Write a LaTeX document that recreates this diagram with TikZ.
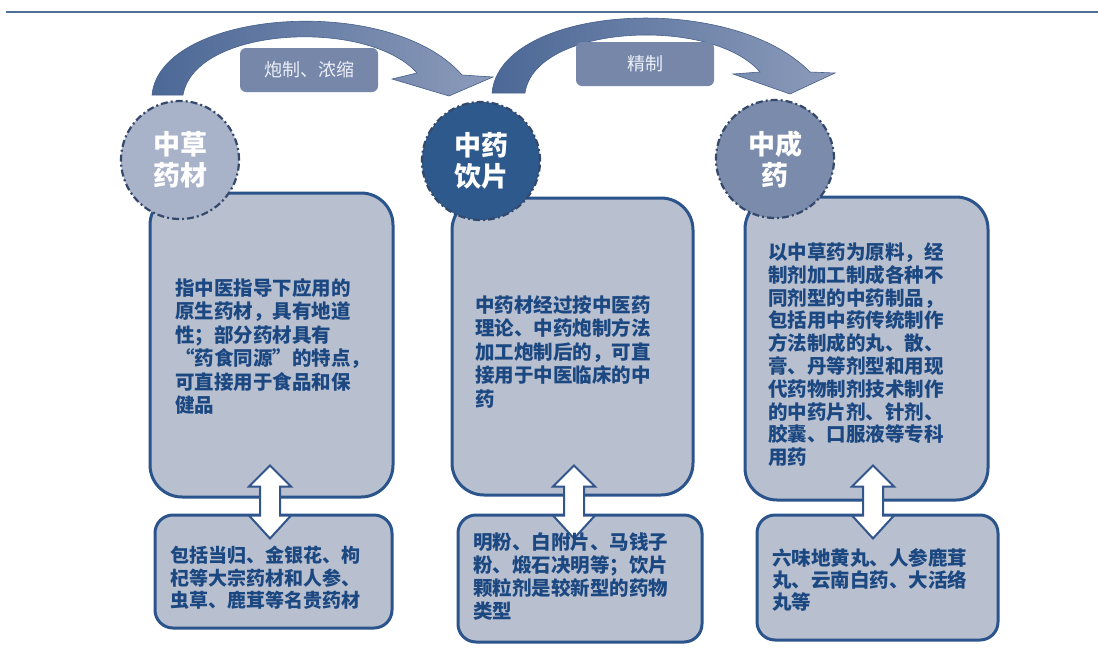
\documentclass[tikz,border=0pt]{standalone}
\usepackage{fontspec}
\newfontfamily\cjk{Noto Sans CJK SC}
\usetikzlibrary{calc}
\definecolor{boxfill}{RGB}{184,191,207}
\definecolor{boxborder}{RGB}{44,84,140}
\definecolor{txtblue}{RGB}{28,72,130}
\definecolor{circA}{RGB}{168,178,200}
\definecolor{circB}{RGB}{46,89,140}
\definecolor{circC}{RGB}{122,139,171}
\definecolor{circborder}{RGB}{52,72,108}
\definecolor{lblfill}{RGB}{118,135,170}
\definecolor{arrL}{RGB}{76,104,150}
\definecolor{arrR}{RGB}{140,155,186}
\definecolor{arredge}{RGB}{70,95,140}
\definecolor{topline}{RGB}{80,110,150}
\definecolor{dblborder}{RGB}{50,85,140}
\tikzset{
  bigbox/.style={draw=boxborder, line width=3pt, fill=boxfill, rounded corners=32pt,
    inner sep=0pt},
  smallbox/.style={draw=boxborder, line width=3pt, fill=boxfill, rounded corners=18pt,
    inner sep=0pt},
  circ/.style={circle, draw=circborder, line width=2.2pt,
    dash pattern=on 7pt off 3pt on 2pt off 3pt, minimum size=118pt, inner sep=0pt,
    text=white, align=center, font=\cjk\bfseries\fontsize{27}{31}\selectfont},
  lbl/.style={fill=lblfill, rounded corners=6pt, minimum width=138pt, minimum height=44pt,
    inner sep=0pt, text={rgb,255:red,236;green,240;blue,247}, font=\cjk\fontsize{18}{20}\selectfont},
  txt/.style={inner sep=0pt, anchor=base west, text=txtblue, font=\cjk\bfseries},
  curvarr/.style={left color=arrL, right color=arrR, draw=arredge, line width=0.6pt},
  dblarr/.pic={\draw[line width=2pt, draw=dblborder, fill=white, line join=miter]
    (0,-36) -- (21,-15) -- (10,-15) -- (10,14) -- (21,14) -- (0,37) -- (-21,14)
    -- (-10,14) -- (-10,-15) -- (-21,-15) -- cycle;}
}
\begin{document}
\begin{tikzpicture}[x=1pt,y=-1pt]
\useasboundingbox (0,0) rectangle (1098,648);
\fill[white] (0,0) rectangle (1098,648);
% top rule
\coordinate (r0) at (6,12);
\coordinate (r1) at (1098,12);
\draw[topline, line width=2.5pt] (r0) -- (r1);

% curved arrows
\shade[curvarr] (152,95) .. controls (160,10) and (390,-8) .. (462,75) -- (493,77) -- (449,96)
  -- (392,79) -- (417,73) .. controls (368,18) and (195,26) .. (183,95) -- cycle;
\shade[curvarr] (492,93) .. controls (500,5) and (730,-10) .. (810,72) -- (835,73) -- (790,94)
  -- (733,74) -- (760,72) .. controls (712,16) and (535,24) .. (525,93) -- cycle;

% labels
\node[lbl] (l1) at (309,70) {炮制、浓缩};
\node[lbl] (l2) at (645,64) {精制};

% big boxes
\node[bigbox, minimum width=243pt, minimum height=304pt] (b1) at (271.5,345) {};
\node[bigbox, minimum width=241pt, minimum height=297pt] (b2) at (572.5,346.5) {};
\node[bigbox, minimum width=243pt, minimum height=303pt] (b3) at (866.5,348.5) {};

% circles
\node[circ, fill=circA] (c1) at (180,160) {中草\\药材};
\node[circ, fill=circB] (c2) at (481,161) {中药\\饮片};
\node[circ, fill=circC] (c3) at (775,159) {中成\\药};

% small boxes
\node[smallbox, minimum width=237pt, minimum height=113pt] (s1) at (273.5,571.5) {};
\node[smallbox, minimum width=244pt, minimum height=127pt] (s2) at (580,578.5) {};
\node[smallbox, minimum width=241pt, minimum height=125pt] (s3) at (877.5,577.5) {};

% double arrows between boxes
\pic at ($(b1.south)+(-1.5,3)$) {dblarr};
\pic at ($(b2.south)+(1.5,5)$) {dblarr};
\pic at ($(b3.south)+(6.5,0)$) {dblarr};

% texts
\node[txt] (t1) at (175,295.5) {\parbox[t]{230pt}{\fontsize{19.5}{23.4}\selectfont
指中医指导下应用的\\原生药材，具有地道\\性；部分药材具有\\“药食同源”的特点，\\可直接用于食品和保\\健品}};
\node[txt] (t2) at (475,312.4) {\parbox[t]{230pt}{\fontsize{19.5}{23.4}\selectfont
中药材经过按中医药\\理论、中药炮制方法\\加工炮制后的，可直\\接用于中医临床的中\\药}};
\node[txt] (t3) at (768,259.4) {\parbox[t]{230pt}{\fontsize{19.5}{22.8}\selectfont
以中草药为原料，经\\制剂加工制成各种不\\同剂型的中药制品，\\包括用中药传统制作\\方法制成的丸、散、\\膏、丹等剂型和用现\\代药物制剂技术制作\\的中药片剂、针剂、\\胶囊、口服液等专科\\用药}};
\node[txt] (u1) at (170,562.4) {\parbox[t]{230pt}{\fontsize{19}{22.7}\selectfont
包括当归、金银花、枸\\杞等大宗药材和人参、\\虫草、鹿茸等名贵药材}};
\node[txt] (u2) at (473,549.4) {\parbox[t]{230pt}{\fontsize{19.5}{23}\selectfont
明粉、白附片、马钱子\\粉、煅石决明等；饮片\\颗粒剂是较新型的药物\\类型}};
\node[txt] (u3) at (772,565.4) {\parbox[t]{230pt}{\fontsize{19.5}{22}\selectfont
六味地黄丸、人参鹿茸\\丸、云南白药、大活络\\丸等}};
\end{tikzpicture}
\end{document}
